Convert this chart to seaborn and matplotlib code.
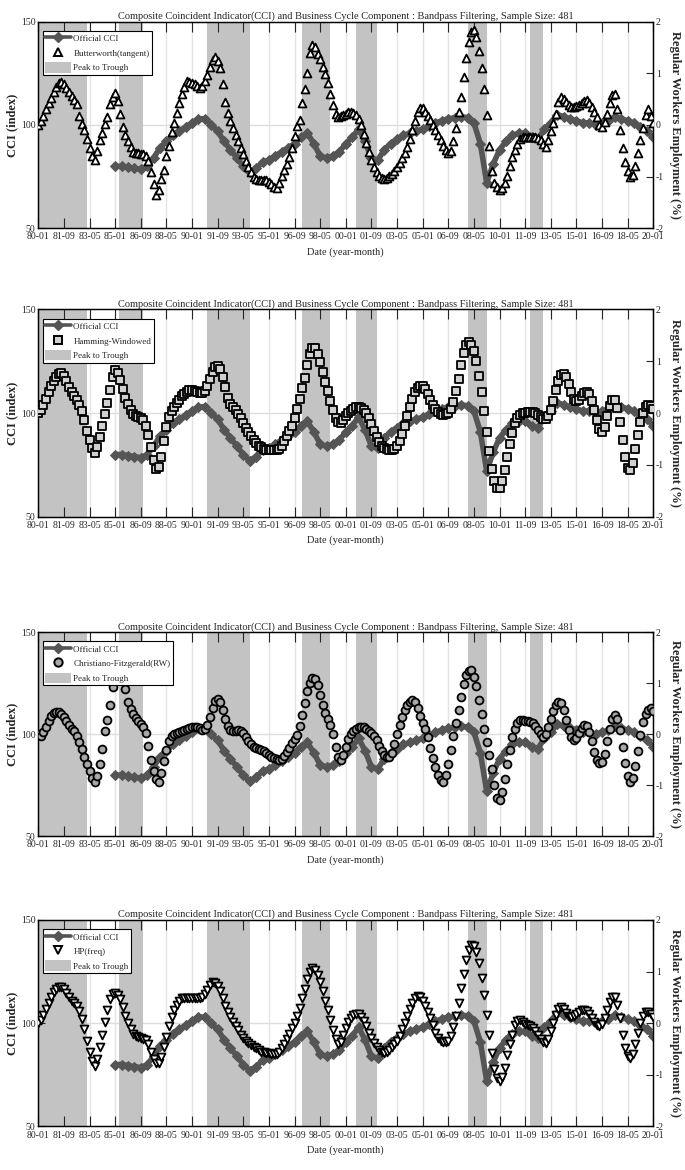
import numpy as np
import pandas as pd
import seaborn as sns
import matplotlib.pyplot as plt
from matplotlib.lines import Line2D
from matplotlib.patches import Patch

# x axis: months counted from 1980-01 (481 monthly samples)
tick_labels = ["80-01", "81-09", "83-05", "85-01", "86-09", "88-05", "90-01", "91-09",
               "93-05", "95-01", "96-09", "98-05", "00-01", "01-09", "03-05", "05-01",
               "06-09", "08-05", "10-01", "11-09", "13-05", "15-01", "16-09", "18-05", "20-01"]

# peak -> trough shaded periods
peak_trough = [("1980-01", "1983-03"), ("1985-04", "1986-11"), ("1991-01", "1993-10"),
               ("1997-03", "1999-01"), ("2000-09", "2002-01"), ("2007-12", "2009-03"),
               ("2012-01", "2012-11")]

# Official CCI (index), 1985-01 .. 2020-01 read every 5 months
official_cci = [80, 80, 79.5, 79, 78.5, 80, 84, 89, 92, 95,
                97, 99, 101, 103, 103, 100, 97, 92, 88, 84,
                80, 77, 79, 82, 83, 85, 87, 89, 91, 94,
                96, 91, 85, 84, 85, 87, 91, 94, 98, 92,
                84, 83, 88, 91, 93, 95, 96, 97, 98, 99.5,
                101, 102, 103, 103.5, 104, 103.5, 101, 91, 72, 81,
                88, 92, 95, 96, 96, 94, 93, 98, 101, 105,
                104, 103, 102, 101, 101, 100, 101, 102, 104, 103,
                102, 101, 99, 97, 94]

# cycle component of regular workers employment (%), 1980-01 .. 2020-01 read every 2 months
# (one row = 20 months)
butterworth = [
    0.00, 0.08, 0.18, 0.30, 0.42, 0.52, 0.64, 0.74, 0.82, 0.84,
    0.80, 0.72, 0.64, 0.56, 0.48, 0.40, 0.18, 0.02, -0.10, -0.28,
    -0.44, -0.60, -0.68, -0.50, -0.29, -0.16, 0.02, 0.16, 0.40, 0.55,
    0.62, 0.46, 0.22, -0.04, -0.20, -0.32, -0.42, -0.52, -0.55, -0.55,
    -0.56, -0.56, -0.60, -0.70, -0.92, -1.15, -1.36, -1.25, -1.05, -0.88,
    -0.60, -0.40, -0.14, 0.04, 0.24, 0.42, 0.60, 0.74, 0.86, 0.84,
    0.82, 0.80, 0.76, 0.72, 0.76, 0.86, 0.96, 1.12, 1.26, 1.32,
    1.24, 1.10, 0.80, 0.44, 0.24, 0.08, -0.06, -0.20, -0.32, -0.44,
    -0.56, -0.70, -0.82, -0.92, -1.00, -1.04, -1.06, -1.06, -1.06, -1.07,
    -1.10, -1.15, -1.20, -1.22, -1.12, -0.98, -0.88, -0.76, -0.62, -0.44,
    -0.22, -0.02, 0.10, 0.42, 0.70, 1.00, 1.40, 1.55, 1.50, 1.38,
    1.28, 1.12, 0.98, 0.82, 0.60, 0.38, 0.22, 0.16, 0.18, 0.20,
    0.22, 0.25, 0.26, 0.24, 0.20, 0.12, 0.00, -0.18, -0.35, -0.52,
    -0.68, -0.82, -0.92, -0.98, -1.03, -1.04, -1.02, -0.99, -0.95, -0.90,
    -0.82, -0.74, -0.64, -0.54, -0.42, -0.28, -0.10, 0.08, 0.25, 0.33,
    0.32, 0.26, 0.18, 0.10, 0.00, -0.10, -0.20, -0.30, -0.40, -0.48,
    -0.54, -0.50, -0.32, -0.05, 0.25, 0.55, 0.92, 1.30, 1.60, 1.80,
    1.84, 1.70, 1.44, 1.10, 0.70, 0.20, -0.40, -0.90, -1.12, -1.20,
    -1.26, -1.22, -1.12, -0.98, -0.80, -0.62, -0.48, -0.36, -0.28, -0.24,
    -0.24, -0.24, -0.24, -0.24, -0.24, -0.26, -0.30, -0.36, -0.42, -0.30,
    -0.12, 0.04, 0.22, 0.44, 0.54, 0.50, 0.44, 0.38, 0.35, 0.35,
    0.36, 0.38, 0.42, 0.46, 0.48, 0.42, 0.34, 0.26, 0.16, 0.00,
    -0.04, 0.05, 0.22, 0.42, 0.58, 0.60, 0.30, -0.10, -0.45, -0.72,
    -0.90, -1.00, -0.96, -0.80, -0.55, -0.30, -0.05, 0.20, 0.30, 0.18,
    0.04]

hamming = [
    0.00, 0.06, 0.16, 0.28, 0.40, 0.52, 0.62, 0.70, 0.76, 0.77,
    0.72, 0.62, 0.50, 0.40, 0.32, 0.25, 0.16, 0.04, -0.14, -0.34,
    -0.52, -0.68, -0.78, -0.66, -0.46, -0.24, -0.02, 0.20, 0.44, 0.70,
    0.83, 0.78, 0.64, 0.46, 0.30, 0.18, 0.06, -0.02, -0.06, -0.08,
    -0.10, -0.14, -0.24, -0.42, -0.66, -0.90, -1.08, -1.04, -0.84, -0.54,
    -0.26, -0.08, 0.04, 0.12, 0.19, 0.26, 0.32, 0.37, 0.41, 0.44,
    0.44, 0.42, 0.40, 0.38, 0.38, 0.42, 0.52, 0.66, 0.80, 0.88,
    0.90, 0.86, 0.70, 0.50, 0.30, 0.18, 0.12, 0.06, -0.02, -0.10,
    -0.20, -0.28, -0.36, -0.44, -0.52, -0.58, -0.63, -0.66, -0.69, -0.71,
    -0.72, -0.72, -0.72, -0.72, -0.70, -0.64, -0.54, -0.44, -0.34, -0.24,
    -0.10, 0.08, 0.28, 0.48, 0.68, 0.92, 1.14, 1.26, 1.26, 1.14,
    0.98, 0.80, 0.60, 0.42, 0.24, 0.06, -0.10, -0.18, -0.20, -0.14,
    -0.06, 0.00, 0.04, 0.08, 0.12, 0.12, 0.10, 0.06, 0.00, -0.10,
    -0.22, -0.34, -0.46, -0.56, -0.64, -0.68, -0.70, -0.72, -0.72, -0.70,
    -0.64, -0.54, -0.40, -0.24, -0.06, 0.12, 0.28, 0.40, 0.48, 0.52,
    0.52, 0.46, 0.36, 0.26, 0.16, 0.08, 0.02, -0.02, -0.04, -0.02,
    0.00, 0.08, 0.22, 0.42, 0.66, 0.92, 1.16, 1.32, 1.38, 1.32,
    1.20, 1.00, 0.72, 0.40, 0.04, -0.36, -0.74, -1.08, -1.32, -1.44,
    -1.44, -1.32, -1.10, -0.84, -0.60, -0.38, -0.20, -0.10, -0.04, 0.00,
    0.00, 0.02, 0.02, 0.02, 0.00, -0.04, -0.08, -0.12, -0.12, -0.06,
    0.06, 0.24, 0.44, 0.62, 0.74, 0.76, 0.70, 0.56, 0.40, 0.28,
    0.24, 0.26, 0.32, 0.38, 0.40, 0.36, 0.24, 0.06, -0.14, -0.30,
    -0.36, -0.26, -0.06, 0.14, 0.26, 0.26, 0.10, -0.18, -0.52, -0.84,
    -1.06, -1.10, -0.96, -0.70, -0.42, -0.18, 0.00, 0.12, 0.16, 0.14,
    0.08]

cf_rw = [
    0.00, -0.03, 0.04, 0.14, 0.26, 0.36, 0.42, 0.44, 0.44, 0.40,
    0.34, 0.26, 0.18, 0.11, 0.06, -0.04, -0.16, -0.28, -0.44, -0.58,
    -0.72, -0.86, -0.93, -0.82, -0.58, -0.28, 0.06, 0.28, 0.58, 0.92,
    1.20, 1.45, 1.48, 1.22, 0.88, 0.64, 0.50, 0.40, 0.32, 0.26,
    0.20, 0.14, 0.02, -0.22, -0.50, -0.72, -0.88, -0.93, -0.76, -0.52,
    -0.30, -0.14, -0.04, 0.00, 0.02, 0.04, 0.06, 0.08, 0.10, 0.12,
    0.14, 0.15, 0.15, 0.12, 0.09, 0.10, 0.18, 0.34, 0.52, 0.66,
    0.70, 0.64, 0.48, 0.30, 0.16, 0.08, 0.06, 0.06, 0.08, 0.07,
    0.02, -0.06, -0.14, -0.20, -0.24, -0.26, -0.28, -0.30, -0.32, -0.36,
    -0.40, -0.44, -0.47, -0.49, -0.50, -0.48, -0.42, -0.34, -0.26, -0.18,
    -0.10, -0.02, 0.16, 0.38, 0.62, 0.84, 1.00, 1.10, 1.08, 0.96,
    0.78, 0.58, 0.42, 0.30, 0.18, 0.00, -0.24, -0.44, -0.50, -0.40,
    -0.24, -0.10, 0.00, 0.06, 0.10, 0.14, 0.15, 0.14, 0.10, 0.06,
    0.02, -0.04, -0.12, -0.22, -0.32, -0.40, -0.44, -0.44, -0.36, -0.20,
    0.00, 0.18, 0.34, 0.48, 0.58, 0.64, 0.67, 0.64, 0.52, 0.36,
    0.22, 0.10, -0.06, -0.26, -0.46, -0.64, -0.80, -0.90, -0.93, -0.80,
    -0.58, -0.30, -0.04, 0.22, 0.48, 0.74, 0.98, 1.16, 1.25, 1.26,
    1.12, 0.94, 0.68, 0.40, 0.10, -0.16, -0.40, -0.68, -1.00, -1.24,
    -1.29, -1.14, -0.88, -0.58, -0.30, -0.06, 0.10, 0.22, 0.28, 0.28,
    0.27, 0.26, 0.24, 0.22, 0.16, 0.08, 0.00, -0.05, 0.00, 0.14,
    0.30, 0.46, 0.58, 0.64, 0.62, 0.48, 0.28, 0.08, -0.06, -0.11,
    -0.08, 0.02, 0.12, 0.18, 0.16, 0.04, -0.14, -0.34, -0.50, -0.57,
    -0.54, -0.38, -0.14, 0.10, 0.30, 0.38, 0.30, 0.08, -0.24, -0.56,
    -0.82, -0.93, -0.86, -0.62, -0.32, -0.02, 0.24, 0.40, 0.48, 0.51,
    0.46]

hp_freq = [
    0.00, 0.06, 0.16, 0.28, 0.40, 0.50, 0.60, 0.66, 0.70, 0.70,
    0.66, 0.58, 0.50, 0.44, 0.40, 0.34, 0.24, 0.08, -0.12, -0.34,
    -0.56, -0.74, -0.82, -0.70, -0.46, -0.22, 0.02, 0.26, 0.46, 0.56,
    0.58, 0.54, 0.46, 0.32, 0.14, 0.00, -0.12, -0.20, -0.24, -0.26,
    -0.28, -0.30, -0.32, -0.40, -0.56, -0.70, -0.78, -0.78, -0.66, -0.46,
    -0.26, -0.06, 0.12, 0.26, 0.36, 0.44, 0.48, 0.48, 0.48, 0.48,
    0.48, 0.48, 0.48, 0.48, 0.50, 0.56, 0.64, 0.74, 0.80, 0.78,
    0.72, 0.62, 0.48, 0.34, 0.22, 0.12, 0.02, -0.06, -0.14, -0.22,
    -0.28, -0.34, -0.38, -0.42, -0.46, -0.48, -0.52, -0.55, -0.56, -0.57,
    -0.58, -0.60, -0.60, -0.60, -0.56, -0.48, -0.40, -0.30, -0.20, -0.10,
    0.00, 0.14, 0.30, 0.48, 0.66, 0.86, 1.00, 1.06, 1.04, 0.94,
    0.80, 0.62, 0.44, 0.26, 0.06, -0.14, -0.30, -0.40, -0.36, -0.22,
    -0.10, 0.02, 0.10, 0.16, 0.18, 0.18, 0.12, 0.04, -0.06, -0.18,
    -0.28, -0.38, -0.46, -0.52, -0.56, -0.57, -0.56, -0.52, -0.46, -0.40,
    -0.34, -0.24, -0.12, 0.00, 0.14, 0.28, 0.40, 0.48, 0.52, 0.50,
    0.44, 0.34, 0.22, 0.10, -0.04, -0.18, -0.28, -0.34, -0.37, -0.37,
    -0.34, -0.24, -0.08, 0.14, 0.40, 0.68, 0.96, 1.22, 1.42, 1.52,
    1.50, 1.38, 1.16, 0.88, 0.54, 0.16, -0.22, -0.58, -0.88, -1.06,
    -1.12, -1.04, -0.86, -0.62, -0.40, -0.22, -0.04, 0.04, 0.06, 0.02,
    -0.02, -0.04, -0.06, -0.10, -0.16, -0.22, -0.30, -0.36, -0.38, -0.30,
    -0.16, 0.00, 0.16, 0.28, 0.32, 0.28, 0.20, 0.14, 0.12, 0.14,
    0.18, 0.22, 0.25, 0.26, 0.24, 0.18, 0.10, 0.02, -0.04, -0.06,
    -0.02, 0.10, 0.26, 0.42, 0.50, 0.50, 0.36, 0.10, -0.22, -0.48,
    -0.64, -0.68, -0.60, -0.40, -0.18, 0.00, 0.14, 0.22, 0.22, 0.18,
    0.12]

filters = [
    ("Butterworth(tangent)", "^", "white", butterworth),
    ("Hamming-Windowed", "s", "#d0d0d0", hamming),
    ("Christiano-Fitzgerald(RW)", "o", "#a8a8a8", cf_rw),
    ("HP(freq)", "v", "white", hp_freq),
]


def month_idx(s):
    y, m = s.split("-")
    return (int(y) - 1980) * 12 + int(m) - 1


cycle_months = np.arange(0, 481, 2)
cci_months = np.arange(60, 481, 5)
tick_pos = np.arange(0, 481, 20)

sns.set_style("ticks")
plt.rcParams["font.family"] = ["Liberation Serif", "DejaVu Serif"]

fig = plt.figure(figsize=(6.85, 11.7), dpi=100)

# axes boxes (left, bottom, width, height)
rects = [
    (0.0559, 0.8049, 0.8978, 0.1766),
    (0.0559, 0.5584, 0.8978, 0.1771),
    (0.0559, 0.2852, 0.8978, 0.1744),
    (0.0559, 0.0372, 0.8978, 0.1765),
]

cci_color = "#555555"
shade_color = "#c3c3c3"

for (name, marker, face, values), rect in zip(filters, rects):
    ax = fig.add_axes(rect)
    ax2 = ax.twinx()

    for t in tick_pos:
        ax.axvline(t, color="#e4e4e4", lw=1, zorder=0)
    ax.axhline(100, color="#dddddd", lw=1, zorder=0)
    for s, e in peak_trough:
        ax.axvspan(month_idx(s), month_idx(e), color=shade_color, lw=0, zorder=0.5)

    sns.lineplot(x=cci_months, y=official_cci, ax=ax, color=cci_color, lw=4,
                 marker="D", markersize=5, markeredgecolor=cci_color, zorder=2)
    sns.scatterplot(x=cycle_months, y=values, ax=ax2, marker=marker, s=32,
                    color=face, edgecolor="black", linewidth=1.3, zorder=3)

    ax.set_xlim(0, 480)
    ax.set_ylim(50, 150)
    ax2.set_ylim(-2, 2)
    ax.set_xticks(tick_pos)
    ax.set_xticklabels(tick_labels, fontsize=7)
    ax.set_yticks([50, 100, 150])
    ax.set_yticklabels(["50", "100", "150"], fontsize=7)
    ax2.set_yticks([-2, -1, 0, 1, 2])
    ax2.set_yticklabels(["-2", "-1", "0", "1", "2"], fontsize=7)
    ax.tick_params(axis="x", direction="in", top=True, length=7, width=0.8, pad=3)
    ax.tick_params(axis="y", direction="in", length=5, width=0.8, pad=2)
    ax2.tick_params(axis="y", direction="in", length=5, width=0.8, pad=2)
    for a in (ax, ax2):
        for sp in a.spines.values():
            sp.set_color("black")
            sp.set_linewidth(0.9)

    ax.set_xlabel("Date (year-month)", fontsize=7.5, labelpad=4)
    ax.set_ylabel("CCI (index)", fontsize=9, fontweight="bold", labelpad=2)
    ax2.set_ylabel("Regular Workers Employment (%)", fontsize=9, fontweight="bold",
                   rotation=270, labelpad=12)
    ax.set_title("Composite Coincident Indicator(CCI) and Business Cycle Component : "
                 "Bandpass Filtering, Sample Size: 481", fontsize=7.5, pad=2)

    handles = [
        Line2D([], [], color=cci_color, lw=2.6, marker="D", markersize=5),
        Line2D([], [], ls="", marker=marker, markersize=6, markerfacecolor=face,
               markeredgecolor="black", markeredgewidth=1.4),
        Patch(facecolor=shade_color, edgecolor="none"),
    ]
    leg = ax2.legend(handles, ["Official CCI", name, "Peak to Trough"], loc="upper left",
                     bbox_to_anchor=(0.008, 0.955), fontsize=6.5, frameon=True,
                     fancybox=False, framealpha=1, edgecolor="black",
                     handlelength=2.8, handleheight=1.4, handletextpad=0.3,
                     borderpad=0.25, labelspacing=0.45, borderaxespad=0)
    leg.get_frame().set_linewidth(0.8)

fig.savefig("out.png", dpi=100)
